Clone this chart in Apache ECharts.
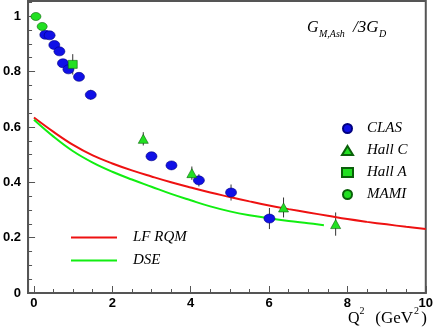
<!DOCTYPE html>
<html><head><meta charset="utf-8">
<script src="https://cdn.jsdelivr.net/npm/echarts@6/dist/echarts.min.js"></script>
<style>html,body{margin:0;padding:0;background:#fff}#c{width:436px;height:327px}</style>
</head><body><div id="c"></div>
<script>
// ---- data ----
const clasQ2 = [0.29, 0.40, 0.52, 0.65, 0.74, 0.88, 1.15, 1.45, 3.00, 3.51, 4.21, 5.03, 6.01];
const clasG  = [0.933, 0.931, 0.896, 0.873, 0.830, 0.808, 0.781, 0.716, 0.494, 0.461, 0.407, 0.363, 0.269];
const clasErr= [0.008, 0.008, 0.010, 0.010, 0.010, 0.010, 0.010, 0.018, 0.012, 0.015, 0.022, 0.029, 0.038];
const hallCQ2 = [2.79, 4.03, 6.37, 7.70];
const hallCG  = [0.557, 0.433, 0.309, 0.249];
const hallCErr= [0.024, 0.024, 0.036, 0.042];
const hallAQ2 = [0.99];
const hallAG  = [0.826];
const hallAErr= [0.037];
const mamiQ2 = [0.05, 0.21];
const mamiG  = [0.999, 0.963];
const mamiErr= [0.005, 0.010];
const lfQ2 = [0, 0.5, 1, 1.5, 2, 2.5, 3, 3.5, 4, 4.5, 5, 5.5, 6, 6.5, 7, 7.5, 8, 8.5, 9, 9.5, 10];
const lfG  = [0.634, 0.582, 0.535, 0.497, 0.468, 0.443, 0.421, 0.400, 0.381, 0.363, 0.347, 0.331, 0.316, 0.303, 0.291, 0.279, 0.267, 0.257, 0.248, 0.239, 0.231];
const dseQ2 = [0, 0.5, 1, 1.5, 2, 2.5, 3, 3.5, 4, 4.5, 5, 5.5, 6, 6.5, 7, 7.4];
const dseG  = [0.626, 0.565, 0.512, 0.471, 0.438, 0.410, 0.384, 0.358, 0.335, 0.313, 0.295, 0.281, 0.270, 0.260, 0.252, 0.245];
const xTicks = [0, 2, 4, 6, 8, 10];
const xMinor = [0.5, 1, 1.5, 2.5, 3, 3.5, 4.5, 5, 5.5, 6.5, 7, 7.5, 8.5, 9, 9.5];

const zip = (a, b) => a.map((v, i) => [v, b[i]]);
const zip3 = (a, b, c) => a.map((v, i) => [v, b[i], c[i]]);

const BLUE = '#1010e6', GREEN = '#22e022', RED = '#ee1111', LGREEN = '#11ee11';
const AX = '#555';
const SERIF = '"Liberation Serif", "Times New Roman", serif';

function errBars(name, q, g, e) {
  return {
    type: 'custom', name: name + ' err', xAxisIndex: 0, yAxisIndex: 0, z: 1,
    data: zip3(q, g, e),
    renderItem: (params, api) => {
      const x = api.value(0), y = api.value(1), er = api.value(2);
      const p1 = api.coord([x, y - er]), p2 = api.coord([x, y + er]);
      return { type: 'line', shape: { x1: p1[0], y1: p1[1], x2: p2[0], y2: p2[1] },
               style: { stroke: '#333', lineWidth: 1 } };
    }
  };
}
function txt(s, x, y, size, italic, align) {
  return { type: 'text', x: x, y: y, z: 10, silent: true,
    style: { text: s, font: (italic ? 'italic ' : '') + size + 'px ' + SERIF, fill: '#000',
             align: align || 'left', verticalAlign: 'middle' } };
}

const chart = echarts.init(document.getElementById('c'), null, { renderer: 'canvas' });
const tickFont = { color: '#000', fontFamily: '"Liberation Sans", Arial, sans-serif', fontWeight: 'bold', fontSize: 13 };
const serifIt = { fontFamily: SERIF, fontStyle: 'italic', fontSize: 15, color: '#000' };

chart.setOption({
  animation: false,
  backgroundColor: '#fff',
  grid: { left: 25, right: 8, top: 1, bottom: 34, show: true, borderColor: AX, borderWidth: 2, backgroundColor: 'transparent' },
  xAxis: [{
    type: 'value', min: -0.15, max: 10, position: 'bottom',
    axisLine: { show: true, onZero: false, lineStyle: { color: AX, width: 2 } },
    axisTick: { show: true, inside: true, length: 7, customValues: xTicks, lineStyle: { color: AX } },
    axisLabel: { show: true, customValues: xTicks, margin: 4, ...tickFont },
    splitLine: { show: false }
  }, {
    type: 'value', min: -0.15, max: 10, position: 'bottom', offset: 0,
    axisLine: { show: false },
    axisTick: { show: true, inside: true, length: 4, customValues: xMinor, lineStyle: { color: AX } },
    axisLabel: { show: false },
    splitLine: { show: false }
  }],
  yAxis: {
    type: 'value', min: 0, max: 1.055, interval: 0.2,
    axisLine: { show: true, onZero: false, lineStyle: { color: AX, width: 2 } },
    axisTick: { show: true, inside: true, length: 7, lineStyle: { color: AX } },
    minorTick: { show: true, splitNumber: 4, length: 4, lineStyle: { color: AX } },
    axisLabel: { showMaxLabel: false, margin: 7, ...tickFont },
    splitLine: { show: false }
  },
  legend: [{
    orient: 'vertical', left: 336, top: 116, itemWidth: 11, itemHeight: 9, itemGap: 7,
    data: ['CLAS', 'Hall C', 'Hall A', 'MAMI'],
    textStyle: { ...serifIt, lineHeight: 14, padding: [0, 0, 0, 9] }
  }, {
    orient: 'vertical', left: 66, top: 225, itemWidth: 46, itemHeight: 2, itemGap: 8, icon: 'rect',
    data: ['LF RQM', 'DSE'],
    textStyle: { ...serifIt, lineHeight: 14, padding: [0, 0, 0, 11] }
  }],
  graphic: [
    txt('G', 307, 28, 16, true),
    txt('M,Ash', 319, 34, 10, true),
    txt('/3G', 353, 28, 17, true),
    txt('D', 379, 34, 10, true),
    txt('Q', 348, 319, 16, false),
    txt('2', 359.5, 311, 10, false),
    txt('(GeV', 413, 319, 17, false, 'right'),
    txt('2', 414, 311, 10, false),
    txt(')', 427, 319, 17, false, 'right')
  ],
  series: [
    { type: 'line', name: 'LF RQM', data: zip(lfQ2, lfG), smooth: 0.4, symbol: 'none',
      lineStyle: { color: RED, width: 2 }, itemStyle: { color: RED }, z: 2 },
    { type: 'line', name: 'DSE', data: zip(dseQ2, dseG), smooth: 0.4, symbol: 'none',
      lineStyle: { color: LGREEN, width: 2 }, itemStyle: { color: LGREEN }, z: 2 },
    errBars('CLAS', clasQ2, clasG, clasErr),
    errBars('Hall C', hallCQ2, hallCG, hallCErr),
    errBars('Hall A', hallAQ2, hallAG, hallAErr),
    errBars('MAMI', mamiQ2, mamiG, mamiErr),
    { type: 'scatter', name: 'CLAS', data: zip(clasQ2, clasG), symbol: 'circle', symbolSize: [11, 9],
      itemStyle: { color: BLUE, borderColor: '#000080', borderWidth: 0.6, opacity: 1 }, z: 5 },
    { type: 'scatter', name: 'Hall C', data: zip(hallCQ2, hallCG), symbol: 'triangle', symbolSize: [10, 9],
      itemStyle: { color: GREEN, borderColor: '#0a600a', borderWidth: 0.6, opacity: 1 }, z: 5 },
    { type: 'scatter', name: 'Hall A', data: zip(hallAQ2, hallAG), symbol: 'rect', symbolSize: [9, 8],
      itemStyle: { color: GREEN, borderColor: '#0a600a', borderWidth: 0.6, opacity: 1 }, z: 5 },
    { type: 'scatter', name: 'MAMI', data: zip(mamiQ2, mamiG), symbol: 'circle', symbolSize: [10, 8],
      itemStyle: { color: GREEN, borderColor: '#0a600a', borderWidth: 0.6, opacity: 1 }, z: 5 }
  ]
});
</script></body></html>
